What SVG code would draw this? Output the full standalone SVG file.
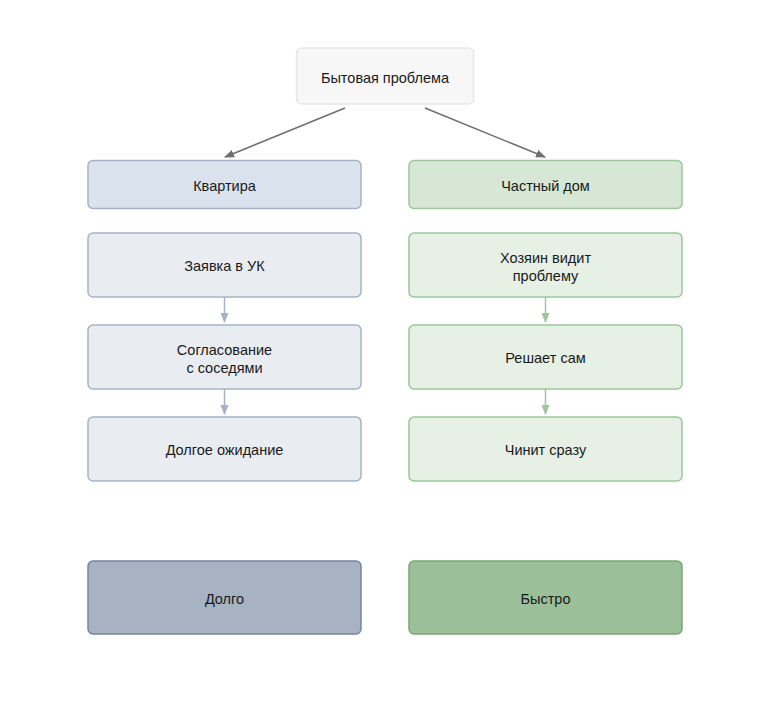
<svg xmlns="http://www.w3.org/2000/svg" width="770" height="722" viewBox="0 0 770 722">
<defs>
<style>
text{font-family:"Liberation Sans",Arial,sans-serif;font-size:14.5px;fill:#1a1a1a;text-anchor:middle;dominant-baseline:central}
.root{fill:#f7f7f7;stroke:#e6e6e6;stroke-width:1.5}
.lh{fill:#dae3ed;stroke:#a6b2c4;stroke-width:1.5}
.ls{fill:#e9edf2;stroke:#a6b2c4;stroke-width:1.5}
.lr{fill:#a7b3c3;stroke:#77849a;stroke-width:1.5}
.rh{fill:#d6e7d5;stroke:#9dc69b;stroke-width:1.5}
.rs{fill:#e6f0e5;stroke:#9dc69b;stroke-width:1.5}
.rr{fill:#9bbf98;stroke:#7ca479;stroke-width:1.5}
.cm{stroke:#707070;stroke-width:1.5;fill:none}
.cl{stroke:#a6b2c4;stroke-width:1.5;fill:none}
.cr{stroke:#9dc69b;stroke-width:1.5;fill:none}
</style>
<marker id="am" markerWidth="10" markerHeight="8" refX="9" refY="4" orient="auto" markerUnits="userSpaceOnUse"><path d="M0,0 L10,4 L0,8 z" fill="#707070"/></marker>
<marker id="al" markerWidth="10" markerHeight="8" refX="9" refY="4" orient="auto" markerUnits="userSpaceOnUse"><path d="M0,0 L10,4 L0,8 z" fill="#a6b2c4"/></marker>
<marker id="ar" markerWidth="10" markerHeight="8" refX="9" refY="4" orient="auto" markerUnits="userSpaceOnUse"><path d="M0,0 L10,4 L0,8 z" fill="#9dc69b"/></marker>
</defs>
<rect width="770" height="722" fill="#ffffff"/>
<g id="connectors">
<line class="cm" x1="345" y1="108" x2="225" y2="157" marker-end="url(#am)"/>
<line class="cm" x1="425" y1="108" x2="545" y2="157" marker-end="url(#am)"/>
<line class="cl" x1="224.5" y1="297" x2="224.5" y2="322" marker-end="url(#al)"/>
<line class="cl" x1="224.5" y1="389" x2="224.5" y2="414" marker-end="url(#al)"/>
<line class="cr" x1="545.5" y1="297" x2="545.5" y2="322" marker-end="url(#ar)"/>
<line class="cr" x1="545.5" y1="389" x2="545.5" y2="414" marker-end="url(#ar)"/>
</g>
<g id="n_root"><rect class="root" x="296.5" y="48" width="177" height="56" rx="5"/><text x="385" y="78">Бытовая проблема</text></g>
<g id="n_flat"><rect class="lh" x="88" y="160.5" width="273" height="48" rx="5"/><text x="224.5" y="186">Квартира</text></g>
<g id="n_l1"><rect class="ls" x="88" y="233" width="273" height="64" rx="5"/><text x="224.5" y="266">Заявка в УК</text></g>
<g id="n_l2"><rect class="ls" x="88" y="325" width="273" height="64" rx="5"/><text x="224.5" y="349.5">Согласование</text><text x="224.5" y="368">с соседями</text></g>
<g id="n_l3"><rect class="ls" x="88" y="417" width="273" height="64" rx="5"/><text x="224.5" y="450">Долгое ожидание</text></g>
<g id="n_lr"><rect class="lr" x="88" y="561" width="273" height="73" rx="5"/><text x="224.5" y="599">Долго</text></g>
<g id="n_house"><rect class="rh" x="409" y="160.5" width="273" height="48" rx="5"/><text x="545.5" y="186">Частный дом</text></g>
<g id="n_r1"><rect class="rs" x="409" y="233" width="273" height="64" rx="5"/><text x="545.5" y="257.5">Хозяин видит</text><text x="545.5" y="276">проблему</text></g>
<g id="n_r2"><rect class="rs" x="409" y="325" width="273" height="64" rx="5"/><text x="545.5" y="358">Решает сам</text></g>
<g id="n_r3"><rect class="rs" x="409" y="417" width="273" height="64" rx="5"/><text x="545.5" y="450">Чинит сразу</text></g>
<g id="n_rr"><rect class="rr" x="409" y="561" width="273" height="73" rx="5"/><text x="545.5" y="599">Быстро</text></g>
</svg>
